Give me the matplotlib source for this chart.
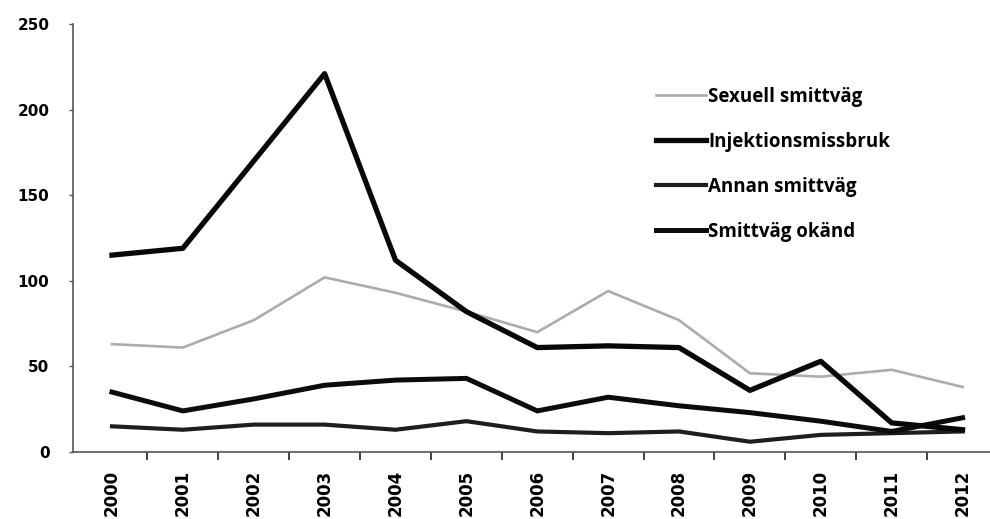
import matplotlib
matplotlib.use("Agg")
import matplotlib.pyplot as plt
from matplotlib.ticker import FixedLocator

# Reported cases per year, by route of transmission
years = ["2000", "2001", "2002", "2003", "2004", "2005", "2006",
         "2007", "2008", "2009", "2010", "2011", "2012"]
sexuell = [63, 61, 77, 102, 93, 82, 70, 94, 77, 46, 44, 48, 38]
injektion = [115, 119, 170, 221, 112, 82, 61, 62, 61, 36, 53, 17, 13]
annan = [15, 13, 16, 16, 13, 18, 12, 11, 12, 6, 10, 11, 12]
okand = [35, 24, 31, 39, 42, 43, 24, 32, 27, 23, 18, 12, 20]

series_labels = ["Sexuell smittväg", "Injektionsmissbruk",
                 "Annan smittväg", "Smittväg okänd"]
y_ticks = [0, 50, 100, 150, 200, 250]

fig = plt.figure(figsize=(9.9, 5.19), dpi=100)
ax = fig.add_axes([73 / 990, 67 / 519, (998 - 73) / 990, 428 / 519])

x = list(range(len(years)))
ax.plot(x, sexuell, color="#acacac", lw=1.9, label=series_labels[0], zorder=2)
ax.plot(x, injektion, color="#080808", lw=3.8, label=series_labels[1], zorder=4)
ax.plot(x, annan, color="#1e1e1e", lw=3.0, label=series_labels[2], zorder=3)
ax.plot(x, okand, color="#0c0c0c", lw=3.6, label=series_labels[3], zorder=3)

ax.set_xlim(-0.55, 12.5)
ax.set_ylim(0, 250)
ax.set_clip_on(False)

for side in ("top", "right"):
    ax.spines[side].set_visible(False)
for side in ("left", "bottom"):
    ax.spines[side].set_color("#555555")
    ax.spines[side].set_linewidth(1.2)

ax.set_yticks(y_ticks)
ax.set_yticklabels([str(v) for v in y_ticks])
ax.tick_params(axis="y", length=3, width=1, color="#555555", pad=14,
               labelsize=11)

ax.set_xticks(x)
ax.set_xticklabels(years, rotation=90)
ax.xaxis.set_minor_locator(FixedLocator([i + 0.5 for i in range(len(years) - 1)]))
ax.tick_params(axis="x", which="major", length=0, pad=13, labelsize=12)
ax.tick_params(axis="x", which="minor", length=6, width=1.3, color="#333333")

for lab in ax.get_xticklabels() + ax.get_yticklabels():
    lab.set_fontweight("bold")
    lab.set_family("DejaVu Sans")

leg = ax.legend(loc="upper left", bbox_to_anchor=(656 / 990, 1 - 87 / 519),
                bbox_transform=fig.transFigure, frameon=False,
                handlelength=2.65, handletextpad=0.15, labelspacing=1.33,
                prop={"family": "Open Sans", "weight": "bold", "size": 13.5},
                borderpad=0, borderaxespad=0)

fig.savefig("out.png", dpi=100, facecolor="white")
